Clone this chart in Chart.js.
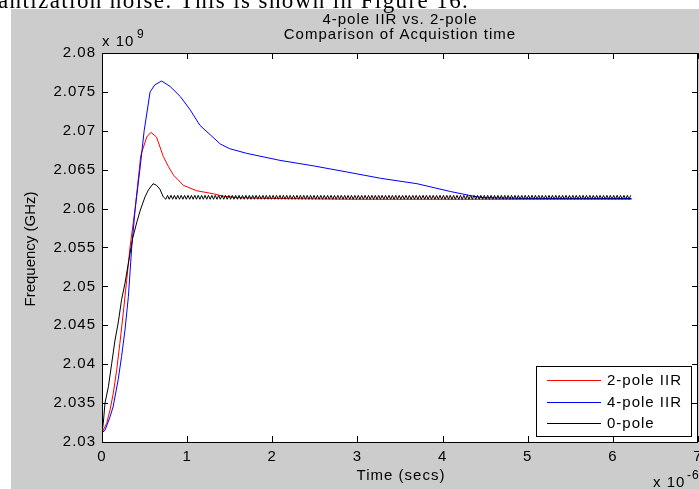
<!DOCTYPE html>
<html><head><meta charset="utf-8">
<style>html,body{margin:0;padding:0;background:#fff;overflow:hidden}canvas{display:block}</style>
<script src="https://cdn.jsdelivr.net/npm/chart.js@4/dist/chart.umd.min.js"></script>
</head><body>
<canvas id="c" width="699" height="489"></canvas>
<script>
// ---------- text ----------
const titleLines = ['4-pole IIR vs. 2-pole', 'Comparison of Acquistion time'];
const xAxisTitle = 'Time (secs)';
const yAxisTitle = 'Frequency (GHz)';
const xExponent = '-6';
const yExponent = '9';
const captionText = 'antization noise. This is shown in Figure 16.';
const seriesNames = ['2-pole IIR', '4-pole IIR', '0-pole'];

// ---------- ticks ----------
const xTicks = [0, 1, 2, 3, 4, 5, 6, 7];
const yTicks = [2.03, 2.035, 2.04, 2.045, 2.05, 2.055, 2.06, 2.065, 2.07, 2.075, 2.08];

// ---------- series (time in 1e-6 s, frequency in 1e9 Hz) ----------
const redTime = [0, 0.055, 0.094, 0.133, 0.173, 0.21, 0.25, 0.29, 0.33, 0.39, 0.455, 0.525, 0.575, 0.64, 0.72, 0.78, 0.84, 0.955, 1.11, 1.31, 1.42, 1.6, 2.0, 3.0, 4.0, 5.0, 6.22];
const redFreq = [2.0312, 2.0324, 2.0341, 2.0363, 2.0393, 2.0427, 2.0466, 2.0508, 2.0551, 2.0601, 2.0668, 2.0692, 2.0698, 2.0692, 2.0667, 2.0654, 2.0643, 2.0630, 2.0623, 2.0619, 2.0616, 2.0614, 2.0613, 2.0612, 2.0612, 2.0612, 2.0612];

const blueTime = [0, 0.035, 0.09, 0.13, 0.19, 0.23, 0.27, 0.31, 0.35, 0.39, 0.445, 0.495, 0.565, 0.62, 0.70, 0.80, 0.92, 1.035, 1.15, 1.27, 1.39, 1.5, 1.7, 2.09, 2.48, 2.88, 3.27, 3.7, 4.09, 4.36, 4.48, 5.0, 5.6, 6.22];
const blueFreq = [2.0312, 2.0315, 2.0331, 2.0345, 2.0380, 2.0410, 2.0444, 2.0487, 2.0552, 2.0600, 2.0650, 2.0700, 2.0750, 2.0759, 2.0764, 2.0757, 2.0744, 2.0727, 2.0707, 2.0695, 2.0683, 2.0677, 2.0671, 2.0662, 2.0655, 2.0647, 2.0639, 2.0632, 2.0622, 2.0616, 2.0614, 2.0613, 2.0613, 2.0613];

const blackHeadTime = [0, 0.015, 0.035, 0.075, 0.114, 0.153, 0.19, 0.23, 0.27, 0.31, 0.36, 0.41, 0.45, 0.505, 0.545, 0.60, 0.64, 0.68, 0.72, 0.75];
const blackHeadFreq = [2.0312, 2.0324, 2.0350, 2.0371, 2.0401, 2.0431, 2.0453, 2.0483, 2.0504, 2.0530, 2.0562, 2.0583, 2.0598, 2.0615, 2.0624, 2.0632, 2.0630, 2.0625, 2.0615, 2.0612];

const blackTailTime = [
0.77,0.79,0.81,0.83,0.85,0.87,0.89,0.91,0.93,0.95,0.97,0.99,
1.01,1.03,1.05,1.07,1.09,1.11,1.13,1.15,1.17,1.19,1.21,1.23,1.25,1.27,1.29,1.31,1.33,1.35,1.37,1.39,1.41,1.43,1.45,1.47,1.49,
1.51,1.53,1.55,1.57,1.59,1.61,1.63,1.65,1.67,1.69,1.71,1.73,1.75,1.77,1.79,1.81,1.83,1.85,1.87,1.89,1.91,1.93,1.95,1.97,1.99,
2.01,2.03,2.05,2.07,2.09,2.11,2.13,2.15,2.17,2.19,2.21,2.23,2.25,2.27,2.29,2.31,2.33,2.35,2.37,2.39,2.41,2.43,2.45,2.47,2.49,
2.51,2.53,2.55,2.57,2.59,2.61,2.63,2.65,2.67,2.69,2.71,2.73,2.75,2.77,2.79,2.81,2.83,2.85,2.87,2.89,2.91,2.93,2.95,2.97,2.99,
3.01,3.03,3.05,3.07,3.09,3.11,3.13,3.15,3.17,3.19,3.21,3.23,3.25,3.27,3.29,3.31,3.33,3.35,3.37,3.39,3.41,3.43,3.45,3.47,3.49,
3.51,3.53,3.55,3.57,3.59,3.61,3.63,3.65,3.67,3.69,3.71,3.73,3.75,3.77,3.79,3.81,3.83,3.85,3.87,3.89,3.91,3.93,3.95,3.97,3.99,
4.01,4.03,4.05,4.07,4.09,4.11,4.13,4.15,4.17,4.19,4.21,4.23,4.25,4.27,4.29,4.31,4.33,4.35,4.37,4.39,4.41,4.43,4.45,4.47,4.49,
4.51,4.53,4.55,4.57,4.59,4.61,4.63,4.65,4.67,4.69,4.71,4.73,4.75,4.77,4.79,4.81,4.83,4.85,4.87,4.89,4.91,4.93,4.95,4.97,4.99,
5.01,5.03,5.05,5.07,5.09,5.11,5.13,5.15,5.17,5.19,5.21,5.23,5.25,5.27,5.29,5.31,5.33,5.35,5.37,5.39,5.41,5.43,5.45,5.47,5.49,
5.51,5.53,5.55,5.57,5.59,5.61,5.63,5.65,5.67,5.69,5.71,5.73,5.75,5.77,5.79,5.81,5.83,5.85,5.87,5.89,5.91,5.93,5.95,5.97,5.99,
6.01,6.03,6.05,6.07,6.09,6.11,6.13,6.15,6.17,6.19,6.21];
const blackTailFreq = [
2.0617,2.0612,2.0617,2.0612,2.0617,2.0612,2.0617,2.0612,2.0617,2.0612,2.0617,2.0612,
2.0617,2.0612,2.0617,2.0612,2.0617,2.0612,2.0617,2.0612,2.0617,2.0612,2.0617,2.0612,2.0617,2.0612,2.0617,2.0612,2.0617,2.0612,2.0617,2.0612,2.0617,2.0612,2.0617,2.0612,2.0617,
2.0612,2.0617,2.0612,2.0617,2.0612,2.0617,2.0612,2.0617,2.0612,2.0617,2.0612,2.0617,2.0612,2.0617,2.0612,2.0617,2.0612,2.0617,2.0612,2.0617,2.0612,2.0617,2.0612,2.0617,2.0612,
2.0617,2.0612,2.0617,2.0612,2.0617,2.0612,2.0617,2.0612,2.0617,2.0612,2.0617,2.0612,2.0617,2.0612,2.0617,2.0612,2.0617,2.0612,2.0617,2.0612,2.0617,2.0612,2.0617,2.0612,2.0617,
2.0612,2.0617,2.0612,2.0617,2.0612,2.0617,2.0612,2.0617,2.0612,2.0617,2.0612,2.0617,2.0612,2.0617,2.0612,2.0617,2.0612,2.0617,2.0612,2.0617,2.0612,2.0617,2.0612,2.0617,2.0612,
2.0617,2.0612,2.0617,2.0612,2.0617,2.0612,2.0617,2.0612,2.0617,2.0612,2.0617,2.0612,2.0617,2.0612,2.0617,2.0612,2.0617,2.0612,2.0617,2.0612,2.0617,2.0612,2.0617,2.0612,2.0617,
2.0612,2.0617,2.0612,2.0617,2.0612,2.0617,2.0612,2.0617,2.0612,2.0617,2.0612,2.0617,2.0612,2.0617,2.0612,2.0617,2.0612,2.0617,2.0612,2.0617,2.0612,2.0617,2.0612,2.0617,2.0612,
2.0617,2.0612,2.0617,2.0612,2.0617,2.0612,2.0617,2.0612,2.0617,2.0612,2.0617,2.0612,2.0617,2.0612,2.0617,2.0612,2.0617,2.0612,2.0617,2.0612,2.0617,2.0612,2.0617,2.0612,2.0617,
2.0612,2.0617,2.0612,2.0617,2.0612,2.0617,2.0612,2.0617,2.0612,2.0617,2.0612,2.0617,2.0612,2.0617,2.0612,2.0617,2.0612,2.0617,2.0612,2.0617,2.0612,2.0617,2.0612,2.0617,2.0612,
2.0617,2.0612,2.0617,2.0612,2.0617,2.0612,2.0617,2.0612,2.0617,2.0612,2.0617,2.0612,2.0617,2.0612,2.0617,2.0612,2.0617,2.0612,2.0617,2.0612,2.0617,2.0612,2.0617,2.0612,2.0617,
2.0612,2.0617,2.0612,2.0617,2.0612,2.0617,2.0612,2.0617,2.0612,2.0617,2.0612,2.0617,2.0612,2.0617,2.0612,2.0617,2.0612,2.0617,2.0612,2.0617,2.0612,2.0617,2.0612,2.0617,2.0612,
2.0617,2.0612,2.0617,2.0612,2.0617,2.0612,2.0617,2.0612,2.0617,2.0612,2.0617];

const seriesColors = ['#ff0000', '#0000ff', '#000000'];

// ---------- build ----------
function pts(ts, vs) { const n = Math.min(ts.length, vs.length); const out = []; for (let i = 0; i < n; i++) out.push({x: ts[i], y: vs[i]}); return out; }
const blackTime = blackHeadTime.concat(blackTailTime);
const blackFreq = blackHeadFreq.concat(blackTailFreq);

Chart.defaults.font.family = '"Liberation Sans", Arial, sans-serif';
Chart.defaults.font.size = 15;
Chart.defaults.color = '#000';

const FONT = '"Liberation Sans", Arial, sans-serif';

const deco = {
  id: 'deco',
  beforeDraw(chart) {
    const ctx = chart.ctx, a = chart.chartArea;
    ctx.save();
    ctx.fillStyle = '#ffffff'; ctx.fillRect(0, 0, chart.width, chart.height);
    ctx.fillStyle = '#cccccc'; ctx.fillRect(11, 9, chart.width - 11, chart.height - 9);
    ctx.fillStyle = '#ffffff'; ctx.fillRect(a.left, a.top, a.right - a.left, a.bottom - a.top);
    ctx.restore();
    ctx.letterSpacing = '1px';
  },
  afterDraw(chart) {
    const ctx = chart.ctx, a = chart.chartArea;
    const xs = chart.scales.x, ys = chart.scales.y;
    ctx.save();
    // frame
    ctx.strokeStyle = '#000'; ctx.lineWidth = 1;
    ctx.strokeRect(a.left + 0.5, a.top + 0.5, a.right - a.left - 1, a.bottom - a.top);
    // ticks (inward, all four sides)
    ctx.beginPath();
    xTicks.forEach(v => { const px = Math.round(xs.getPixelForValue(v)) + 0.5;
      ctx.moveTo(px, a.bottom); ctx.lineTo(px, a.bottom - 6);
      ctx.moveTo(px, a.top); ctx.lineTo(px, a.top + 6); });
    yTicks.forEach(v => { const py = Math.round(ys.getPixelForValue(v)) + 0.5;
      ctx.moveTo(a.left, py); ctx.lineTo(a.left + 6, py);
      ctx.moveTo(a.right, py); ctx.lineTo(a.right - 6, py); });
    ctx.stroke();

    // legend
    const lx = 536, ly = 366, lw = 155, lh = 70;
    ctx.fillStyle = '#fff'; ctx.fillRect(lx, ly, lw, lh);
    ctx.strokeStyle = '#000'; ctx.strokeRect(lx + 0.5, ly + 0.5, lw, lh);
    const rows = [380, 402, 423];
    chart.data.datasets.forEach((ds, i) => {
      ctx.strokeStyle = ds.borderColor; ctx.lineWidth = 1;
      ctx.beginPath(); ctx.moveTo(547, rows[i] + 0.5); ctx.lineTo(601, rows[i] + 0.5); ctx.stroke();
      ctx.fillStyle = '#000'; ctx.font = '15px ' + FONT; ctx.textAlign = 'left'; ctx.textBaseline = 'middle';
      ctx.letterSpacing = '1px';
      ctx.fillText(ds.label, 607, rows[i] + 1);
    });

    // titles
    ctx.fillStyle = '#000'; ctx.textAlign = 'center'; ctx.textBaseline = 'alphabetic';
    ctx.font = '15px ' + FONT; ctx.letterSpacing = '1px';
    const cx = (a.left + a.right) / 2;
    ctx.fillText(titleLines[0], cx, 24);
    ctx.fillText(titleLines[1], cx, 39);
    ctx.fillText(xAxisTitle, cx + 1, 480);

    // exponents
    ctx.textAlign = 'left';
    ctx.fillText('x 10', 102, 46);
    ctx.font = '12px ' + FONT; ctx.fillText(yExponent, 137, 38);
    ctx.font = '15px ' + FONT; ctx.fillText('x 10', 653, 487);
    ctx.font = '12px ' + FONT; ctx.fillText(xExponent, 687, 479);

    // y-axis title (rotated)
    ctx.save();
    ctx.letterSpacing = '0px';
    ctx.font = '15px ' + FONT;
    ctx.translate(35, 249); ctx.rotate(-Math.PI / 2);
    ctx.textAlign = 'center'; ctx.textBaseline = 'alphabetic';
    ctx.fillText(yAxisTitle, 0, 0);
    ctx.restore();

    // caption line above the figure
    ctx.font = '23px "Liberation Serif", "Times New Roman", serif';
    ctx.letterSpacing = '1.4px';
    ctx.textAlign = 'left'; ctx.textBaseline = 'alphabetic';
    ctx.fillText(captionText, -2, 8);
    ctx.restore();
  }
};

new Chart(document.getElementById('c'), {
  type: 'line',
  data: {
    datasets: [
      { label: seriesNames[0], data: pts(redTime, redFreq), borderColor: seriesColors[0], order: 3 },
      { label: seriesNames[1], data: pts(blueTime, blueFreq), borderColor: seriesColors[1], order: 2 },
      { label: seriesNames[2], data: pts(blackTime, blackFreq), borderColor: seriesColors[2], order: 1 }
    ]
  },
  options: {
    responsive: false,
    animation: false,
    events: [],
    datasets: { line: { borderWidth: 1, pointRadius: 0, tension: 0, fill: false } },
    layout: { padding: { left: 0, top: 53, right: 1, bottom: 0 } },
    plugins: { legend: { display: false }, title: { display: false }, tooltip: { enabled: false } },
    scales: {
      x: {
        type: 'linear', min: 0, max: 7,
        grid: { display: false, drawTicks: false }, border: { display: false },
        afterBuildTicks: s => { s.ticks = xTicks.map(v => ({ value: v })); },
        ticks: { padding: 6, maxRotation: 0, autoSkip: false, color: '#000', font: { size: 15 }, callback: v => String(v) },
        afterFit: s => { s.height = 47; s.paddingLeft = 0; s.paddingRight = 0; }
      },
      y: {
        type: 'linear', min: 2.03, max: 2.08,
        grid: { display: false, drawTicks: false }, border: { display: false },
        afterBuildTicks: s => { s.ticks = yTicks.map(v => ({ value: v })); },
        ticks: { padding: 6, autoSkip: false, color: '#000', font: { size: 15 }, callback: v => String(parseFloat(Number(v).toFixed(3))) },
        afterFit: s => { s.width = 102; s.paddingTop = 0; s.paddingBottom = 0; }
      }
    }
  },
  plugins: [deco]
});
</script>
</body></html>
